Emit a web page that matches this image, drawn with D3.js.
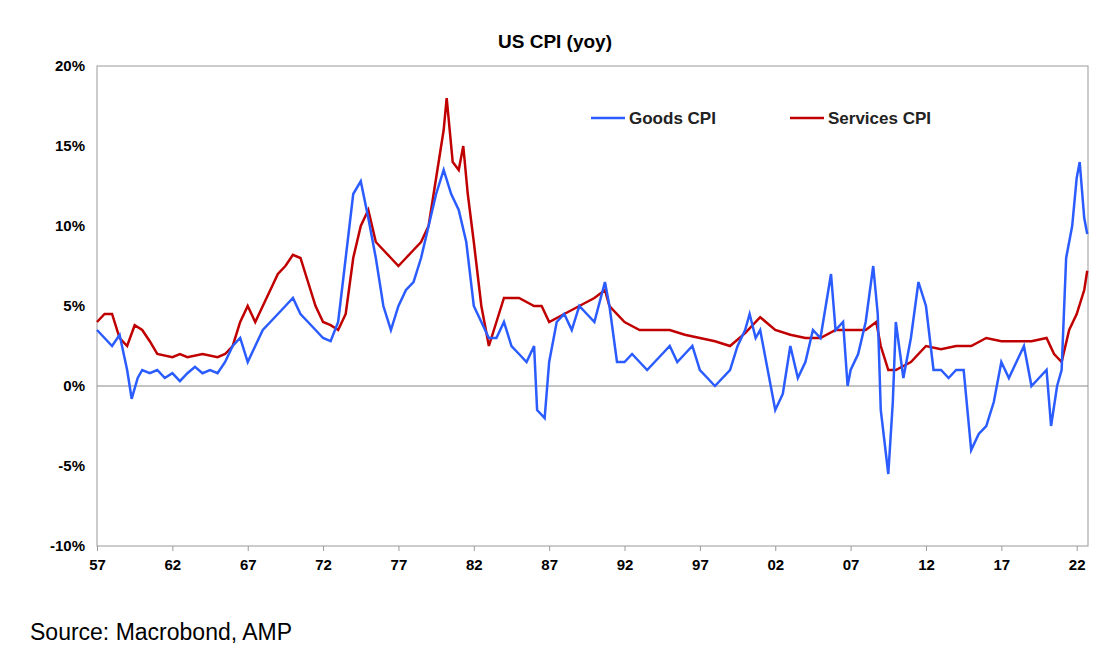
<!DOCTYPE html>
<html><head><meta charset="utf-8">
<script src="https://cdn.jsdelivr.net/npm/d3@7"></script>
<style>body{margin:0;background:#fff;font-family:"Liberation Sans",Arial,sans-serif}</style>
</head><body>
<script>
var goodsYears = [1957,1957.5,1958,1958.5,1959,1959.3,1959.7,1960,1960.5,1961,1961.5,1962,1962.5,1963,1963.5,1964,1964.5,1965,1965.5,1966,1966.5,1967,1967.5,1968,1968.5,1969,1969.5,1970,1970.5,1971,1971.5,1972,1972.5,1973,1973.5,1974,1974.5,1975,1975.5,1976,1976.5,1977,1977.5,1978,1978.5,1979,1979.5,1980,1980.5,1981,1981.5,1982,1982.5,1983,1983.5,1984,1984.5,1985,1985.5,1986,1986.2,1986.7,1987,1987.5,1988,1988.5,1989,1989.5,1990,1990.7,1991,1991.5,1992,1992.5,1993,1993.5,1994,1994.5,1995,1995.5,1996,1996.5,1997,1997.5,1998,1998.5,1999,1999.5,2000,2000.3,2000.7,2001,2001.5,2002,2002.5,2003,2003.5,2004,2004.5,2005,2005.7,2006,2006.5,2006.8,2007,2007.5,2008,2008.5,2008.8,2009,2009.5,2009.8,2010,2010.5,2011,2011.5,2012,2012.5,2013,2013.5,2014,2014.5,2015,2015.5,2016,2016.5,2017,2017.5,2018,2018.5,2019,2019.5,2020,2020.3,2020.7,2021,2021.3,2021.7,2022,2022.2,2022.5,2022.7];
var goodsValues = [3.5,3.0,2.5,3.2,1.0,-0.8,0.5,1.0,0.8,1.0,0.5,0.8,0.3,0.8,1.2,0.8,1.0,0.8,1.5,2.5,3.0,1.5,2.5,3.5,4.0,4.5,5.0,5.5,4.5,4.0,3.5,3.0,2.8,4.0,8.0,12.0,12.8,10.5,8.0,5.0,3.5,5.0,6.0,6.5,8.0,10.0,12.0,13.5,12.0,11.0,9.0,5.0,4.0,3.0,3.0,4.0,2.5,2.0,1.5,2.5,-1.5,-2.0,1.5,4.0,4.5,3.5,5.0,4.5,4.0,6.5,5.0,1.5,1.5,2.0,1.5,1.0,1.5,2.0,2.5,1.5,2.0,2.5,1.0,0.5,0.0,0.5,1.0,2.5,3.5,4.5,3.0,3.5,1.0,-1.5,-0.5,2.5,0.5,1.5,3.5,3.0,7.0,3.5,4.0,0.0,1.0,2.0,4.0,7.5,4.5,-1.5,-5.5,-1.0,4.0,0.5,3.0,6.5,5.0,1.0,1.0,0.5,1.0,1.0,-4.0,-3.0,-2.5,-1.0,1.5,0.5,1.5,2.5,0.0,0.5,1.0,-2.5,0.0,1.0,8.0,10.0,13.0,14.0,10.5,9.5];
var servicesYears = [1957,1957.5,1958,1958.5,1959,1959.5,1960,1960.5,1961,1962,1962.5,1963,1964,1965,1965.5,1966,1966.5,1967,1967.5,1968,1968.5,1969,1969.5,1970,1970.5,1971,1971.5,1972,1972.5,1973,1973.5,1974,1974.5,1975,1975.5,1976,1976.5,1977,1977.5,1978,1978.5,1979,1979.5,1980,1980.2,1980.6,1981,1981.3,1981.6,1982,1982.5,1983,1983.5,1984,1985,1986,1986.5,1987,1988,1989,1990,1990.7,1991,1992,1993,1994,1995,1996,1997,1998,1999,2000,2001,2002,2003,2004,2005,2006,2007,2008,2008.7,2009,2009.5,2010,2011,2012,2013,2014,2015,2016,2017,2018,2019,2020,2020.5,2021,2021.5,2022,2022.5,2022.7];
var servicesValues = [4.0,4.5,4.5,3.0,2.5,3.8,3.5,2.8,2.0,1.8,2.0,1.8,2.0,1.8,2.0,2.5,4.0,5.0,4.0,5.0,6.0,7.0,7.5,8.2,8.0,6.5,5.0,4.0,3.8,3.5,4.5,8.0,10.0,11.0,9.0,8.5,8.0,7.5,8.0,8.5,9.0,10.0,13.0,16.0,18.0,14.0,13.5,15.0,12.0,9.0,5.0,2.5,4.0,5.5,5.5,5.0,5.0,4.0,4.5,5.0,5.5,6.0,5.0,4.0,3.5,3.5,3.5,3.2,3.0,2.8,2.5,3.3,4.3,3.5,3.2,3.0,3.0,3.5,3.5,3.5,4.0,2.5,1.0,1.0,1.5,2.5,2.3,2.5,2.5,3.0,2.8,2.8,2.8,3.0,2.0,1.5,3.5,4.5,6.0,7.2];
var yTicks = [-10,-5,0,5,10,15,20];
var xTicks = [1957,1962,1967,1972,1977,1982,1987,1992,1997,2002,2007,2012,2017,2022];

var svg = d3.select("body").append("svg").attr("width",1113).attr("height",654);
var m = {l:97, r:1088, t:66, b:546};
var x = d3.scaleLinear().domain([1957,2022.75]).range([m.l,m.r]);
var y = d3.scaleLinear().domain([-10,20]).range([m.b,m.t]);

svg.append("text").attr("x",555).attr("y",48).attr("text-anchor","middle")
  .attr("font-size",19).attr("font-weight","bold").text("US CPI (yoy)");

svg.append("rect").attr("x",m.l).attr("y",m.t).attr("width",m.r-m.l).attr("height",m.b-m.t)
  .attr("fill","none").attr("stroke","#999");
svg.append("line").attr("x1",m.l).attr("x2",m.r).attr("y1",y(0)).attr("y2",y(0)).attr("stroke","#888");

svg.append("g").attr("transform","translate("+m.l+",0)")
  .call(d3.axisLeft(y).tickValues(yTicks).tickSize(0).tickPadding(12).tickFormat(function(d){return d+"%";}))
  .call(function(g){g.select(".domain").remove();g.selectAll("text").attr("font-size",15).attr("font-weight","bold").attr("font-family","Liberation Sans, Arial");});
svg.append("g").attr("transform","translate(0,"+m.b+")")
  .call(d3.axisBottom(x).tickValues(xTicks).tickSize(5).tickPadding(8).tickFormat(function(d){return String(d).slice(2);}))
  .call(function(g){g.select(".domain").remove();g.selectAll("line").attr("stroke","#999");g.selectAll("text").attr("font-size",15).attr("font-weight","bold").attr("font-family","Liberation Sans, Arial");});

var line = d3.line().x(function(d){return x(d[0]);}).y(function(d){return y(d[1]);});
svg.append("path").datum(servicesYears.map(function(t,i){return [t,servicesValues[i]];}))
  .attr("d",line).attr("fill","none").attr("stroke","#c00000").attr("stroke-width",2.5);
svg.append("path").datum(goodsYears.map(function(t,i){return [t,goodsValues[i]];}))
  .attr("d",line).attr("fill","none").attr("stroke","#2a5cff").attr("stroke-width",2.5);

var legend = [["Goods CPI","#2a5cff",591],["Services CPI","#c00000",790]];
legend.forEach(function(l){
  svg.append("line").attr("x1",l[2]).attr("x2",l[2]+34).attr("y1",118).attr("y2",118).attr("stroke",l[1]).attr("stroke-width",2.5);
  svg.append("text").attr("x",l[2]+38).attr("y",124).attr("font-size",17).attr("font-weight","bold").attr("fill","#222").text(l[0]);
});

svg.append("text").attr("x",30).attr("y",640).attr("font-size",23).text("Source: Macrobond, AMP");
</script>
</body></html>
